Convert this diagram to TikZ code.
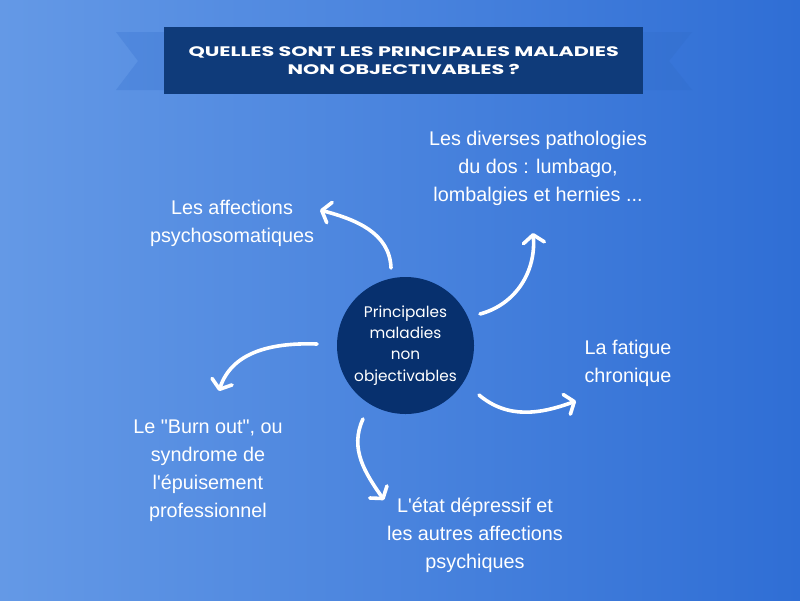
\documentclass[tikz,border=0pt]{standalone}
\usepackage{fontspec}
\setmainfont{Liberation Sans}[Ligatures=TeXOff]
\newfontfamily\popfont{Poppins}
\newfontfamily\popbold{Poppins Bold}[FakeStretch=1.5]
\usetikzlibrary{arrows.meta}
\definecolor{bgL}{HTML}{6499E6}
\definecolor{bgR}{HTML}{2F6ED5}
\definecolor{ribL}{HTML}{5088DD}
\definecolor{ribR}{HTML}{3471D2}
\definecolor{titlebox}{HTML}{0F3B7A}
\definecolor{circ}{HTML}{07306E}
\tikzset{
  lbl/.style={text=white, align=center, font=\fontsize{19.8}{28}\selectfont, inner sep=0pt},
  curvearrow/.style={draw=white, line width=3.6pt, line cap=round,
     -{Straight Barb[length=8pt,width=21pt,line width=3.6pt,round]}},
}
\begin{document}
\begin{tikzpicture}[x=1pt,y=-1pt]
\shade[left color=bgL, right color=bgR] (0,0) rectangle (800,600);
\useasboundingbox (0,0) rectangle (800,600);
% ribbon
\shade[left color=ribL, right color=ribR] (116,32) -- (692,32) -- (669,61) -- (692,90) -- (116,90) -- (138,61) -- cycle;
\node[fill=titlebox, minimum width=479pt, minimum height=67pt, inner sep=0pt, anchor=north west] (title) at (164,27) {};
\node[text=white, align=center, font=\popbold\fontsize{13.8}{17.5}\selectfont] (titletext) at (title.center) {QUELLES SONT LES PRINCIPALES MALADIES\\NON OBJECTIVABLES ?};
% circle
\node[circle, fill=circ, minimum size=137pt, inner sep=0pt] (c) at (405.5,345.5) {};
\node[text=white, align=center, font=\popfont\fontsize{15.3}{21.2}\selectfont] (ctext) at (c.center) {Principales\\maladies\\non\\objectivables};
% labels
\node[lbl] (dos) at (538,168.5) {Les diverses pathologies\\du dos : lumbago,\\lombalgies et hernies ...};
\node[lbl] (psy) at (232,223.5) {Les affections\\psychosomatiques};
\node[lbl] (fat) at (628,363.5) {La fatigue\\chronique};
\node[lbl] (burn) at (208,470.5) {Le "Burn out", ou\\syndrome de\\l'épuisement\\professionnel};
\node[lbl] (dep) at (475,535.5) {L'état dépressif et\\les autres affections\\psychiques};
% arrows
\coordinate (a1s) at (391,268);
\coordinate (a1e) at (320,210);
\coordinate (a2s) at (480,314);
\coordinate (a2e) at (533,233);
\coordinate (a3s) at (479,395);
\coordinate (a3e) at (576,401);
\coordinate (a4s) at (363,419);
\coordinate (a4e) at (384,500);
\coordinate (a5s) at (317,344);
\coordinate (a5e) at (219,391);
\draw[curvearrow] (a1s) to[out=92,in=-15] (a1e);
\draw[curvearrow] (a2s) to[out=15,in=-85] (a2e);
\draw[curvearrow] (a3s) to[out=-40,in=200] (a3e);
\draw[curvearrow] (a4s) to[out=245,in=125] (a4e);
\draw[curvearrow] (a5s) to[out=178,in=72] (a5e);
\end{tikzpicture}
\end{document}
